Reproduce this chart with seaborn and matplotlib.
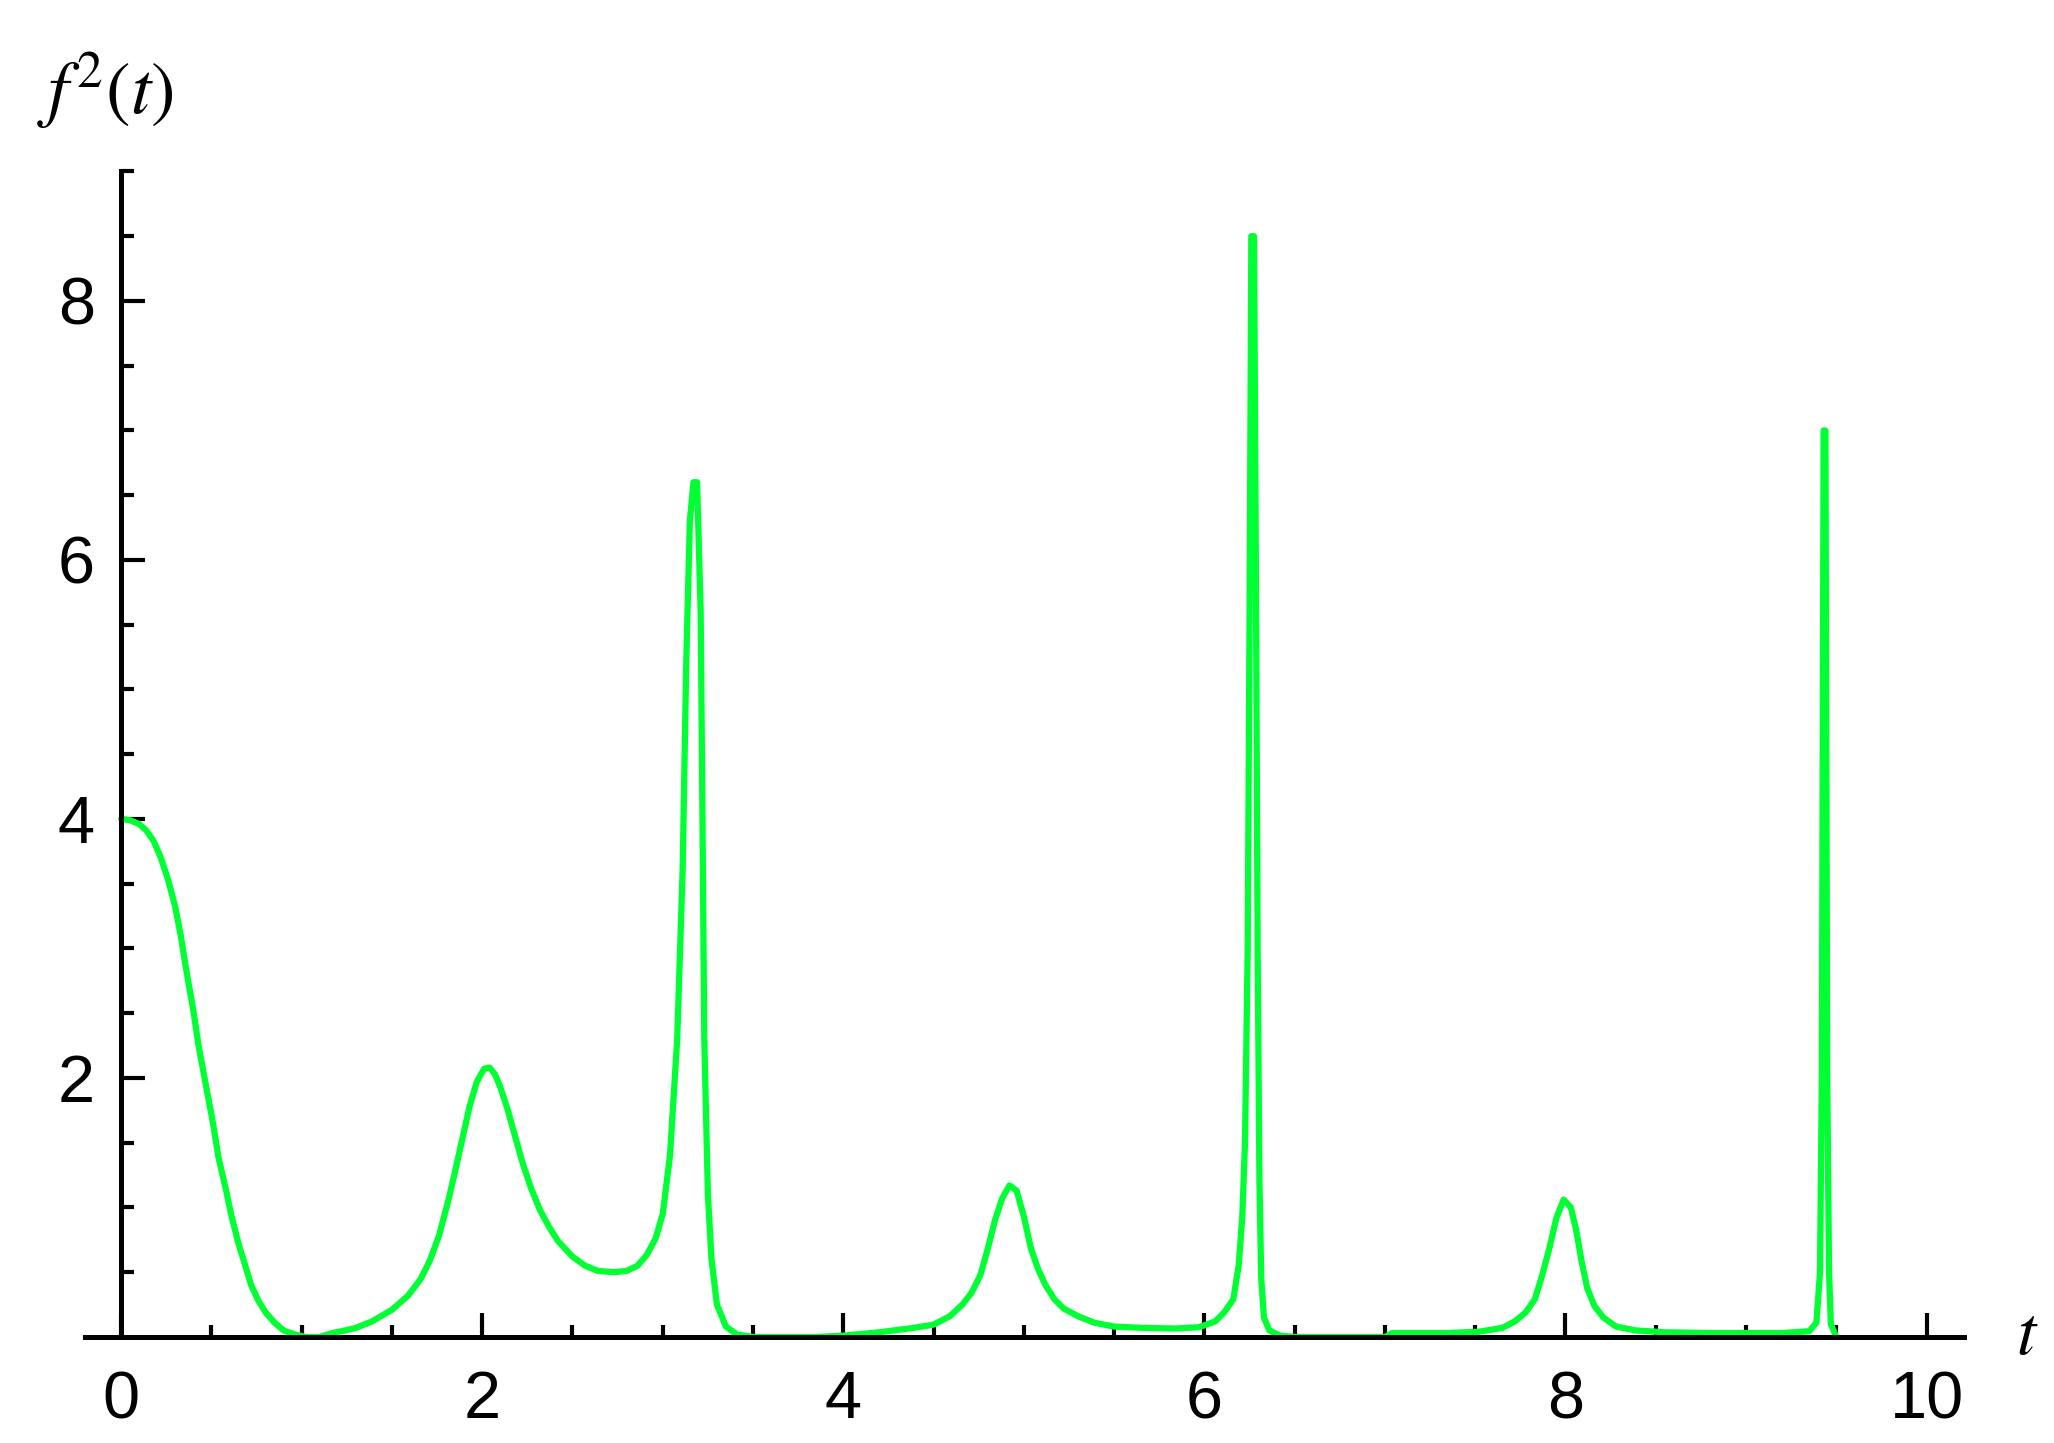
import seaborn as sns
import matplotlib.pyplot as plt
import numpy as np
import pandas as pd

# values (t, f^2(t))
t_vals = [0.00, 0.05, 0.10, 0.14, 0.18, 0.22, 0.26, 0.30, 0.33, 0.36, 0.40, 0.43,
          0.47, 0.51, 0.54, 0.58, 0.61, 0.65, 0.69, 0.72, 0.76, 0.80, 0.85, 0.90,
          0.96, 1.02, 1.10, 1.17, 1.24,
          1.30, 1.39, 1.50, 1.59, 1.66, 1.71, 1.76, 1.81, 1.85, 1.89, 1.93, 1.97,
          2.01, 2.04, 2.07, 2.10, 2.14, 2.18, 2.22, 2.27, 2.32, 2.37, 2.42, 2.50,
          2.57, 2.64, 2.73, 2.80, 2.86, 2.91, 2.96,
          3.00, 3.04, 3.08, 3.11, 3.13, 3.15, 3.17, 3.19, 3.21, 3.22, 3.23, 3.25,
          3.27, 3.30, 3.35, 3.41, 3.50, 3.85,
          4.00, 4.20, 4.39, 4.50, 4.59, 4.66, 4.71, 4.76, 4.80, 4.84, 4.88, 4.92,
          4.96, 5.00, 5.04, 5.08, 5.12, 5.17, 5.22, 5.30, 5.39, 5.50, 5.66, 5.84,
          5.97, 6.06, 6.11, 6.16, 6.19, 6.21,
          6.225, 6.24, 6.25, 6.26, 6.275, 6.285, 6.295, 6.305, 6.315, 6.33, 6.36,
          6.42, 6.50, 7.00,
          7.04, 7.34, 7.52, 7.65, 7.72, 7.78, 7.83, 7.87, 7.91, 7.95, 7.99, 8.03,
          8.06, 8.09, 8.12, 8.16, 8.21, 8.28, 8.39, 8.55, 8.83, 9.20, 9.35, 9.39,
          9.41, 9.42, 9.425, 9.43, 9.44, 9.445, 9.45, 9.46, 9.47, 9.50]
f2_vals = [4.00, 3.99, 3.96, 3.91, 3.83, 3.70, 3.53, 3.32, 3.10, 2.84, 2.52, 2.24,
           1.94, 1.64, 1.38, 1.14, 0.94, 0.72, 0.54, 0.40, 0.28, 0.19, 0.11, 0.05,
           0.02, 0.00, 0.00, 0.03, 0.05,
           0.07, 0.12, 0.21, 0.32, 0.45, 0.59, 0.78, 1.04, 1.28, 1.53, 1.78, 1.97,
           2.07, 2.08, 2.03, 1.93, 1.76, 1.56, 1.36, 1.15, 0.98, 0.85, 0.74, 0.62,
           0.55, 0.51, 0.50, 0.51, 0.55, 0.63, 0.76,
           0.95, 1.40, 2.30, 3.60, 5.20, 6.30, 6.60, 6.60, 5.60, 4.00, 2.30, 1.10,
           0.60, 0.25, 0.08, 0.02, 0.00, 0.00,
           0.01, 0.036, 0.07, 0.095, 0.16, 0.25, 0.34, 0.48, 0.68, 0.90, 1.07, 1.17,
           1.13, 0.93, 0.68, 0.52, 0.40, 0.29, 0.22, 0.16, 0.11, 0.08, 0.07, 0.065,
           0.075, 0.12, 0.19, 0.29, 0.55, 0.93,
           1.50, 3.00, 5.50, 8.50, 8.50, 6.00, 3.00, 1.20, 0.45, 0.15, 0.05,
           0.01, 0.00, 0.00,
           0.03, 0.03, 0.04, 0.07, 0.12, 0.19, 0.29, 0.47, 0.68, 0.92, 1.06, 1.00,
           0.82, 0.58, 0.38, 0.24, 0.15, 0.08, 0.05, 0.036, 0.03, 0.03, 0.044, 0.11,
           0.50, 2.00, 4.50, 7.00, 7.00, 4.50, 2.00, 0.50, 0.10, 0.00]

x_major = [0, 2, 4, 6, 8, 10]
y_major = [2, 4, 6, 8]

df = pd.DataFrame({'t': t_vals, 'f2': f2_vals})

sns.set_style('white')
plt.rcParams['font.family'] = ['Liberation Sans', 'DejaVu Sans']
plt.rcParams['mathtext.fontset'] = 'stix'

fig = plt.figure(figsize=(20.54, 14.43), dpi=100)
ax = fig.add_axes([0.0414, 0.0735, 0.915, 0.8077])

sns.lineplot(data=df, x='t', y='f2', estimator=None, sort=False,
             color='#00ff33', linewidth=4.5, ax=ax)

ax.set_xlim(-0.2, 10.21)
ax.set_ylim(0, 9.0)

# Mathematica-like crossing axes
ax.spines['top'].set_visible(False)
ax.spines['right'].set_visible(False)
ax.spines['left'].set_position(('data', 0))
for side in ['left', 'bottom']:
    ax.spines[side].set_linewidth(3.6)
    ax.spines[side].set_color('black')

ax.set_xticks(x_major)
ax.set_xticks(np.arange(0, 10.01, 0.5), minor=True)
ax.set_yticks(y_major)
ax.set_yticks(np.arange(0.5, 9.01, 0.5), minor=True)
ax.set_xticklabels([str(v) for v in x_major])
ax.set_yticklabels([str(v) for v in y_major])

ax.tick_params(which='major', direction='in', length=17, width=3.0, labelsize=48,
               colors='black')
ax.tick_params(which='minor', direction='in', length=9, width=3.0, colors='black')
ax.tick_params(axis='x', which='major', pad=24)
ax.tick_params(axis='y', which='major', pad=19)
ax.tick_params(left=True, bottom=True, which='both')

ax.set_xlabel('')
ax.set_ylabel('')

fig.text(0.018, 0.937, r'$f^{2}(t)$', fontsize=53, ha='left', va='center',
         color='black')
fig.text(0.987, 0.074, r'$t$', fontsize=50, ha='center', va='center',
         color='black')

fig.savefig('out.png', dpi=100)
